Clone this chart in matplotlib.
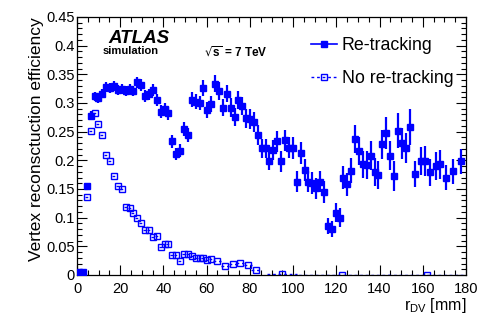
import matplotlib
matplotlib.use("Agg")
import matplotlib.pyplot as plt
from matplotlib.lines import Line2D
from matplotlib.ticker import MultipleLocator
import numpy as np

plt.rcParams['font.family'] = ['Liberation Sans', 'DejaVu Sans']

# Re-tracking (filled squares)
re_x = [0.9, 2.7, 4.5, 6.3, 8.1, 9.9, 11.7, 13.5, 15.3, 17.1, 18.9, 20.7, 22.5, 24.3, 26.1,
        27.9, 29.7, 31.5, 33.3, 35.1, 36.9, 38.7, 40.5, 42.3, 44.1, 45.9, 47.7, 49.5, 51.3,
        53.1, 54.9, 56.7, 58.5, 60.3, 62.1, 63.9, 65.7, 67.5, 69.3, 71.1, 72.9, 74.7, 76.5,
        78.3, 80.1, 81.9, 83.7, 85.5, 87.3, 88.9, 90.9, 92.7, 94.5, 96.3, 98.1, 99.9, 101.7,
        103.5, 105.3, 107.1, 108.9, 110.7, 112.5, 114.3, 116.1, 117.9, 119.7, 121.5, 123.3,
        125.1, 126.9, 128.7, 130.5, 132.3, 134.1, 135.9, 137.7, 139.5, 141.3, 143.1, 144.9,
        146.7, 148.5, 150.3, 152.1, 153.9, 156.3, 159.1, 160.8, 163.4, 166.0, 167.8, 170.6,
        174.0, 177.8]
re_y = [0.005, 0.005, 0.155, 0.278, 0.312, 0.308, 0.316, 0.328, 0.326, 0.330, 0.323, 0.324,
        0.321, 0.324, 0.321, 0.336, 0.331, 0.312, 0.315, 0.323, 0.305, 0.285, 0.289, 0.282,
        0.233, 0.211, 0.217, 0.254, 0.244, 0.306, 0.302, 0.300, 0.326, 0.288, 0.298, 0.334,
        0.321, 0.292, 0.316, 0.292, 0.276, 0.305, 0.295, 0.273, 0.272, 0.267, 0.244, 0.221,
        0.221, 0.199, 0.218, 0.233, 0.198, 0.235, 0.222, 0.221, 0.163, 0.213, 0.183, 0.163,
        0.160, 0.151, 0.163, 0.145, 0.085, 0.080, 0.109, 0.100, 0.170, 0.158, 0.182, 0.237,
        0.216, 0.193, 0.192, 0.208, 0.180, 0.174, 0.228, 0.248, 0.208, 0.172, 0.252, 0.230,
        0.221, 0.258, 0.176, 0.199, 0.199, 0.179, 0.190, 0.193, 0.170, 0.181, 0.198]
re_err = [0.003, 0.003, 0.006, 0.008, 0.008, 0.008, 0.008, 0.009, 0.009, 0.009, 0.009, 0.009,
          0.009, 0.009, 0.009, 0.010, 0.010, 0.010, 0.010, 0.010, 0.010, 0.011, 0.011, 0.011,
          0.011, 0.011, 0.011, 0.012, 0.012, 0.013, 0.013, 0.013, 0.014, 0.014, 0.014, 0.015,
          0.015, 0.015, 0.015, 0.016, 0.016, 0.016, 0.016, 0.016, 0.017, 0.017, 0.017, 0.017,
          0.017, 0.015, 0.017, 0.018, 0.018, 0.018, 0.018, 0.019, 0.018, 0.019, 0.019, 0.019,
          0.019, 0.019, 0.019, 0.019, 0.014, 0.014, 0.016, 0.016, 0.020, 0.020, 0.022, 0.025,
          0.024, 0.024, 0.024, 0.025, 0.024, 0.024, 0.025, 0.028, 0.025, 0.026, 0.030, 0.027,
          0.026, 0.032, 0.022, 0.025, 0.026, 0.024, 0.025, 0.025, 0.021, 0.022, 0.021]

# No re-tracking (open squares)
no_x = [4.5, 6.3, 8.1, 9.9, 11.7, 13.5, 15.3, 17.1, 18.9, 20.7, 22.5, 24.3, 26.1, 27.9, 29.7,
        31.5, 33.3, 35.1, 36.9, 38.7, 40.5, 42.3, 44.1, 45.9, 47.7, 49.5, 51.3, 53.1, 54.9,
        56.7, 58.5, 60.3, 62.1, 64.8, 68.4, 72.0, 75.6, 79.2, 83.0, 95.0, 122.5, 162.0]
no_y = [0.136, 0.251, 0.282, 0.264, 0.245, 0.209, 0.199, 0.173, 0.156, 0.150, 0.119, 0.117,
        0.109, 0.099, 0.090, 0.078, 0.078, 0.067, 0.068, 0.048, 0.054, 0.054, 0.035, 0.035,
        0.024, 0.037, 0.036, 0.034, 0.030, 0.030, 0.030, 0.027, 0.028, 0.025, 0.015, 0.019,
        0.021, 0.018, 0.009, 0.002, 0.000, 0.000]
no_xerr = [0.9] * 33 + [1.8, 1.8, 1.8, 1.8, 1.8, 2.5, 7.0, 22.5, 18.0]

fig = plt.figure(figsize=(4.91, 3.32), dpi=100)
ax = fig.add_axes([77 / 491, 1 - 275 / 332, 389 / 491, 258 / 332])

blue = '#0000ff'
eb2 = ax.errorbar(no_x, no_y, xerr=no_xerr, fmt='s', mfc='none', mec=blue, mew=1.0,
                  ms=5.0, ecolor=blue, elinewidth=1.0, capsize=0, zorder=2)
for lc in eb2[2]:
    lc.set_linestyle((0, (2, 2)))
ax.errorbar(re_x, re_y, yerr=re_err, fmt='s', color=blue, ms=4.2, ecolor=blue,
            elinewidth=1.6, capsize=0, zorder=3)

ax.set_xlim(0, 180)
ax.set_ylim(0, 0.45)
ax.xaxis.set_major_locator(MultipleLocator(20))
ax.xaxis.set_minor_locator(MultipleLocator(5))
ax.yaxis.set_major_locator(MultipleLocator(0.05))
ax.yaxis.set_minor_locator(MultipleLocator(0.01))
ax.tick_params(which='both', direction='in', top=True, right=True, labelsize=10.5, width=0.8)
ax.tick_params(which='major', length=7)
ax.tick_params(which='minor', length=3.5)
ax.set_yticks(np.arange(0, 0.451, 0.05))
ax.set_yticklabels(['0', '0.05', '0.1', '0.15', '0.2', '0.25', '0.3', '0.35', '0.4', '0.45'])
ax.tick_params(axis='x', pad=5)
ax.tick_params(axis='y', pad=1.5)
for s in ax.spines.values():
    s.set_linewidth(0.9)

ax.set_ylabel('Vertex reconsctuction efficiency', fontsize=12.5, loc='top', labelpad=2)
ax.set_xlabel(r'r$_{\mathregular{DV}}$ [mm]', fontsize=11.5, loc='right', labelpad=0)

ax.text(0.08, 0.918, 'ATLAS', transform=ax.transAxes, fontsize=13.5, fontweight='bold',
        fontstyle='italic', va='center', ha='left')
ax.text(0.067, 0.868, 'simulation', transform=ax.transAxes, fontsize=8, fontweight='bold',
        va='center', ha='left')
ax.text(0.326, 0.862, r'$\sqrt{\mathregular{s}}$ = 7 TeV', transform=ax.transAxes, fontsize=8.5,
        fontweight='bold', va='center', ha='left')

h1 = Line2D([], [], color=blue, marker='s', ms=4.2, lw=1.2)
h2 = Line2D([], [], color=blue, marker='s', ms=5.0, mfc='none', lw=1.0, ls=(0, (2, 2)))
leg = ax.legend([h1, h2], ['Re-tracking', 'No re-tracking'], loc='upper left',
                bbox_to_anchor=((311 - 77) / 389, (275 - 37.5) / 258), frameon=False,
                fontsize=12.8, handlelength=1.46, handletextpad=0.28, labelspacing=0.86,
                borderaxespad=0, borderpad=0)

fig.savefig('out.png', dpi=100)
